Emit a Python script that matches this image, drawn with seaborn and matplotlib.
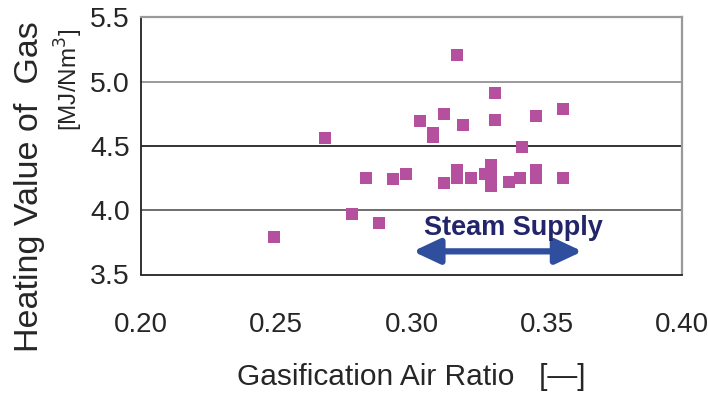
import matplotlib
matplotlib.use("Agg")
import matplotlib.pyplot as plt
import seaborn as sns
import pandas as pd

# ---- data ----
air_ratio = [0.249, 0.268, 0.278, 0.283, 0.288, 0.293, 0.298, 0.303, 0.308, 0.308,
             0.312, 0.312, 0.317, 0.317, 0.317, 0.319, 0.322, 0.327, 0.3295, 0.3295,
             0.3295, 0.331, 0.331, 0.336, 0.340, 0.341, 0.346, 0.346, 0.346, 0.356, 0.356]
heating_value = [3.79, 4.56, 3.97, 4.25, 3.90, 4.24, 4.28, 4.69, 4.60, 4.57,
                 4.21, 4.75, 5.21, 4.31, 4.25, 4.66, 4.25, 4.28, 4.35, 4.27,
                 4.19, 4.91, 4.70, 4.22, 4.25, 4.49, 4.73, 4.31, 4.25, 4.79, 4.25]
x_ticks = [0.20, 0.25, 0.30, 0.35, 0.40]
y_ticks = [3.5, 4.0, 4.5, 5.0, 5.5]
x_tick_labels = ["0.20", "0.25", "0.30", "0.35", "0.40"]
y_tick_labels = ["3.5", "4.0", "4.5", "5.0", "5.5"]
steam_range = [0.3005, 0.3632]
steam_y = 3.68
steam_label = "Steam Supply"

df = pd.DataFrame({"air": air_ratio, "hv": heating_value})

sns.set_style("white")
plt.rcParams["font.family"] = ["Liberation Sans", "DejaVu Sans"]

fig = plt.figure(figsize=(7.08, 3.96), dpi=100)
ax = fig.add_axes([141 / 708, 1 - 274.5 / 396, (682 - 141) / 708, (274.5 - 17.3) / 396])

sns.scatterplot(data=df, x="air", y="hv", ax=ax, marker="s", s=72,
                color="#B5509F", linewidth=0, zorder=3)

ax.set_xlim(0.20, 0.40)
ax.set_ylim(3.5, 5.5)
ax.set_xticks(x_ticks)
ax.set_xticklabels(x_tick_labels, fontsize=20)
ax.set_yticks(y_ticks)
ax.set_yticklabels(y_tick_labels, fontsize=20.5)
ax.set_xlabel("")
ax.set_ylabel("")
ax.tick_params(axis="x", direction="in", length=7, width=1.2, color="#333333", pad=27)
ax.tick_params(axis="y", length=0, pad=8)

ax.grid(axis="y", color="#555555", linewidth=1.2, zorder=1)
grid_colors = {4.0: "#555555", 4.5: "#111111", 5.0: "#8a8a8a"}
for gl, v in zip(ax.get_ygridlines(), y_ticks):
    gl.set_color(grid_colors.get(v, "none"))
ax.grid(axis="x", visible=False)

for side in ["left", "bottom"]:
    ax.spines[side].set_color("#222222")
    ax.spines[side].set_linewidth(1.3)
for side in ["top", "right"]:
    ax.spines[side].set_color("#9a9a9a")
    ax.spines[side].set_linewidth(1.6)

# steam supply arrow
ax.annotate("", xy=(steam_range[1], steam_y), xytext=(steam_range[0], steam_y),
            arrowprops=dict(arrowstyle="<|-|>,head_length=1.6,head_width=0.75",
                            mutation_scale=10, lw=4.5, color="#2F4E9E",
                            shrinkA=0, shrinkB=0), zorder=4)
ax.text(0.3375, 3.86, steam_label, fontsize=19.5, fontweight="bold",
        color="#23256B", ha="center", va="center", zorder=4)

fig.text(411.5 / 708, 1 - 377 / 396, "Gasification Air Ratio   [\u2014]", fontsize=21.5,
         ha="center", va="center")
fig.text(30 / 708, 1 - 187 / 396, "Heating Value of  Gas", fontsize=24.5, rotation=90,
         ha="center", va="center")
fig.text(69 / 708, 1 - 80 / 396, "[MJ/Nm$^3$]", fontsize=17.5, rotation=90,
         ha="center", va="center")

fig.savefig("out.png", dpi=100)
